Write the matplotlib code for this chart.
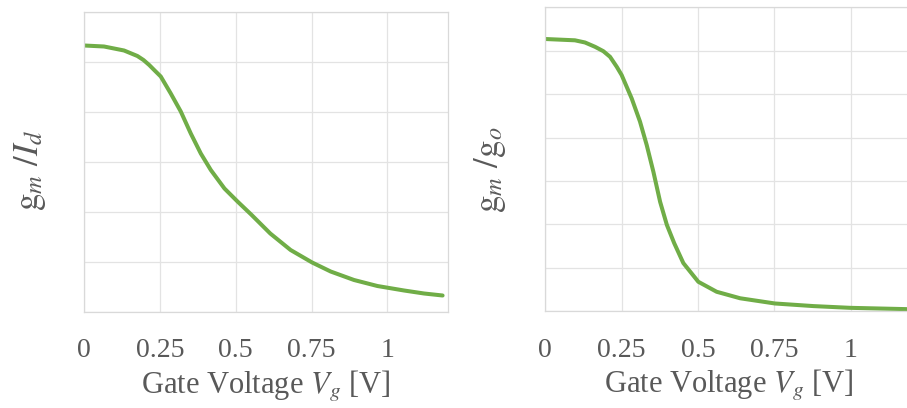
import matplotlib.pyplot as plt

# gm/Id curve (arbitrary units) against gate voltage
vg_left = [0.0, 0.066, 0.132, 0.176, 0.196, 0.215, 0.233, 0.253, 0.286, 0.319,
           0.352, 0.385, 0.418, 0.463, 0.506, 0.551, 0.614, 0.681, 0.752, 0.813,
           0.890, 0.967, 1.055, 1.121, 1.182]
gm_id = [5.33, 5.31, 5.23, 5.12, 5.04, 4.94, 4.83, 4.71, 4.37, 4.01,
         3.57, 3.17, 2.84, 2.47, 2.21, 1.95, 1.57, 1.24, 0.99, 0.81,
         0.64, 0.52, 0.43, 0.37, 0.33]

# gm/go curve (arbitrary units) against gate voltage
vg_right = [0.0, 0.097, 0.130, 0.163, 0.190, 0.212, 0.234, 0.250, 0.283, 0.310,
            0.332, 0.354, 0.376, 0.398, 0.422, 0.452, 0.501, 0.561, 0.638, 0.752,
            0.878, 0.998, 1.183]
gm_go = [6.27, 6.24, 6.19, 6.09, 5.99, 5.86, 5.63, 5.44, 4.90, 4.37,
         3.83, 3.21, 2.52, 1.99, 1.57, 1.11, 0.68, 0.45, 0.30, 0.18,
         0.12, 0.08, 0.05]

x_ticks = [0, 0.25, 0.5, 0.75, 1]
x_tick_labels = ["0", "0.25", "0.5", "0.75", "1"]

plt.rcParams["font.family"] = ["Liberation Serif", "DejaVu Serif"]
plt.rcParams["mathtext.fontset"] = "stix"

GREEN = "#70ad47"
TEXT = "#595959"
GRID = "#e3e3e3"

fig = plt.figure(figsize=(9.07, 4.08), dpi=100)
ax1 = fig.add_axes([0.0926, 0.2353, 0.4014, 0.7353])
ax2 = fig.add_axes([0.6012, 0.2370, 0.4041, 0.7451])

panels = [
    (ax1, vg_left, gm_id, 6, r"$\mathrm{g}_m\ /I_d$", (-0.148, 0.473)),
    (ax2, vg_right, gm_go, 7, r"$\mathrm{g}_m\ /\mathrm{g}_o$", (-0.151, 0.465)),
]

for ax, x, y, ymax, ylabel, label_xy in panels:
    ax.plot(x, y, color=GREEN, linewidth=2.9,
            solid_capstyle="round", solid_joinstyle="round")
    ax.set_xlim(0, 1.2)
    ax.set_ylim(0, ymax)
    ax.set_xticks(x_ticks)
    ax.set_xticklabels(x_tick_labels)
    ax.set_yticks(range(ymax + 1))
    ax.set_yticklabels([])
    ax.tick_params(length=0, pad=19, labelsize=20, labelcolor=TEXT)
    ax.grid(color=GRID, linewidth=0.9)
    ax.set_axisbelow(True)
    for side in ["left", "bottom", "top", "right"]:
        ax.spines[side].set_color("#d9d9d9")
        ax.spines[side].set_linewidth(0.9)
    ax.set_xlabel(r"Gate Voltage $V_g$ [V]", fontsize=22, color=TEXT, labelpad=4)
    ax.set_ylabel(ylabel, fontsize=25, color=TEXT)
    ax.yaxis.set_label_coords(*label_xy)
    ax.yaxis.label.set_va("center")

fig.savefig("out.png", dpi=100)
